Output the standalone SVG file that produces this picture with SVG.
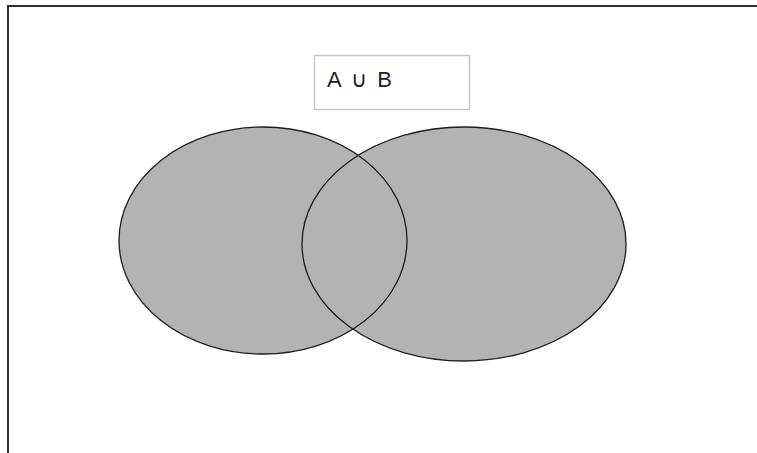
<svg xmlns="http://www.w3.org/2000/svg" width="757" height="453" viewBox="0 0 757 453">
  <style>
    .frame { fill: none; stroke: #2e2e2e; stroke-width: 2; }
    .set-fill { fill: #b3b3b3; stroke: none; }
    .set-line { fill: none; stroke: #1e1e1e; stroke-width: 1.3; }
    .label-box { fill: #ffffff; stroke: #c8c8c8; stroke-width: 1.5; }
    .label { font-family: "Liberation Sans", Arial, sans-serif; font-size: 22px; fill: #222222; }
  </style>
  <rect width="757" height="453" fill="#ffffff"/>
  <!-- outer frame: top and left edges -->
  <polyline class="frame" points="8,453 8,6 757,6"/>

  <!-- union label -->
  <g id="label">
    <rect class="label-box" x="314.5" y="55.5" width="155" height="54"/>
    <text class="label" x="327" y="86.5" textLength="65" lengthAdjust="spacing">A ∪ B</text>
  </g>

  <!-- set A -->
  <g id="setA">
    <ellipse class="set-fill" cx="263" cy="240.5" rx="144" ry="113.5"/>
  </g>
  <!-- set B -->
  <g id="setB">
    <ellipse class="set-fill" cx="464" cy="244" rx="162" ry="117"/>
  </g>
  <!-- outlines drawn over both fills -->
  <g id="outlines">
    <ellipse class="set-line" cx="263" cy="240.5" rx="144" ry="113.5"/>
    <ellipse class="set-line" cx="464" cy="244" rx="162" ry="117"/>
  </g>
</svg>
